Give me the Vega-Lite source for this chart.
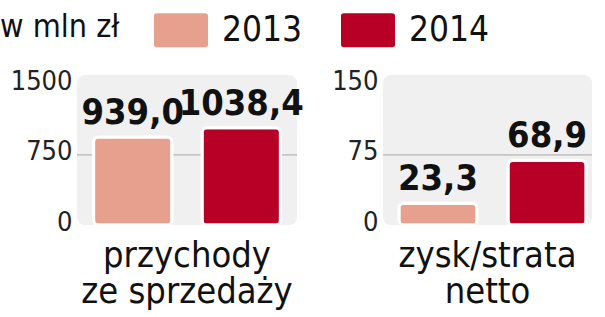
{
  "$schema": "https://vega.github.io/schema/vega-lite/v6.json",
  "background": "white",
  "padding": {"left": 0, "top": 0, "right": 0, "bottom": 0},
  "data": {"values": [
    {"metric": "przychody", "year": "2013", "value": 939.0},
    {"metric": "przychody", "year": "2014", "value": 1038.4},
    {"metric": "zysk", "year": "2013", "value": 23.3},
    {"metric": "zysk", "year": "2014", "value": 68.9}
  ]},
  "spacing": 86,
  "bounds": "flush",
  "hconcat": [
    {
      "width": 220,
      "height": 150,
      "title": {"text": ["przychody", "ze sprzedaży"], "orient": "bottom", "anchor": "middle"},
      "transform": [{"filter": "datum.metric === 'przychody'"}],
      "layer": [
        {
          "mark": {"type": "rule", "color": "#c6c6c6", "strokeWidth": 1.5},
          "encoding": {"y": {"datum": 750, "type": "quantitative", "scale": {"domain": [0, 1500]}, "axis": {"values": [0, 750, 1500]}}}
        },
        {
          "mark": {"type": "bar", "cornerRadius": 5, "stroke": "white", "strokeWidth": 3},
          "encoding": {
            "x": {"field": "year", "type": "nominal", "axis": null, "scale": {"paddingInner": 0.278, "paddingOuter": 0.153}},
            "y": {"field": "value", "type": "quantitative"},
            "color": {"field": "year", "type": "nominal", "title": "w mln zł", "scale": {"domain": ["2013", "2014"], "range": ["#e8a08e", "#b80026"]}, "legend": {"title": "w mln zł", "orient": "none", "legendX": -77, "legendY": -75}}
          }
        },
        {
          "mark": {"type": "text", "dy": -13, "baseline": "alphabetic", "font": "DejaVu Sans Condensed", "fontWeight": "bold", "fontSize": 36, "color": "#111111"},
          "encoding": {
            "x": {"field": "year", "type": "nominal"},
            "y": {"field": "value", "type": "quantitative"},
            "text": {"field": "value", "type": "quantitative", "format": ".1f"}
          }
        }
      ]
    },
    {
      "width": 209,
      "height": 150,
      "title": {"text": ["zysk/strata", "netto"], "orient": "bottom", "anchor": "middle"},
      "transform": [{"filter": "datum.metric === 'zysk'"}],
      "layer": [
        {
          "mark": {"type": "rule", "color": "#c6c6c6", "strokeWidth": 1.5},
          "encoding": {"y": {"datum": 75, "type": "quantitative", "scale": {"domain": [0, 150]}, "axis": {"values": [0, 75, 150]}}}
        },
        {
          "mark": {"type": "bar", "cornerRadius": 5, "stroke": "white", "strokeWidth": 3},
          "encoding": {
            "x": {"field": "year", "type": "nominal", "axis": null, "scale": {"paddingInner": 0.284, "paddingOuter": 0.1, "align": 0.73}},
            "y": {"field": "value", "type": "quantitative"},
            "color": {"field": "year", "type": "nominal", "title": "w mln zł"}
          }
        },
        {
          "mark": {"type": "text", "dy": -13, "baseline": "alphabetic", "font": "DejaVu Sans Condensed", "fontWeight": "bold", "fontSize": 36, "color": "#111111"},
          "encoding": {
            "x": {"field": "year", "type": "nominal"},
            "y": {"field": "value", "type": "quantitative"},
            "text": {"field": "value", "type": "quantitative", "format": ".1f"}
          }
        }
      ]
    }
  ],
  "resolve": {"scale": {"y": "independent", "x": "independent"}},
  "config": {
    "locale": {"number": {"decimal": ",", "thousands": "", "grouping": [3], "currency": ["", " zł"]}},
    "view": {"fill": "#f0f0f0", "stroke": null, "cornerRadius": 8},
    "axis": {"domain": false, "ticks": false, "grid": false, "title": null, "labelFont": "DejaVu Sans Condensed", "labelFontSize": 27, "labelColor": "#222222", "labelPadding": 5, "labelOffset": -3},
    "title": {"font": "DejaVu Sans Condensed", "fontSize": 36, "fontWeight": "normal", "color": "#111111", "lineHeight": 36, "offset": 4},
    "legend": {
      "direction": "horizontal",
      "titleOrient": "left",
      "titleFont": "DejaVu Sans Condensed",
      "titleFontSize": 32,
      "titleFontWeight": "normal",
      "titleColor": "#111111",
      "titlePadding": 31,
      "titleBaseline": "middle",
      "titleAnchor": "middle",
      "labelFont": "DejaVu Sans Condensed",
      "labelFontSize": 35,
      "labelColor": "#111111",
      "labelOffset": 11,
      "columnPadding": 30,
      "symbolType": "M-0.85,-0.65 H0.85 A0.15,0.15 0 0 1 1,-0.5 V0.5 A0.15,0.15 0 0 1 0.85,0.65 H-0.85 A0.15,0.15 0 0 1 -1,0.5 V-0.5 A0.15,0.15 0 0 1 -0.85,-0.65 Z",
      "symbolSize": 3249,
      "symbolStrokeColor": "white",
      "symbolStrokeWidth": 3,
      "symbolOpacity": 1
    }
  }
}
